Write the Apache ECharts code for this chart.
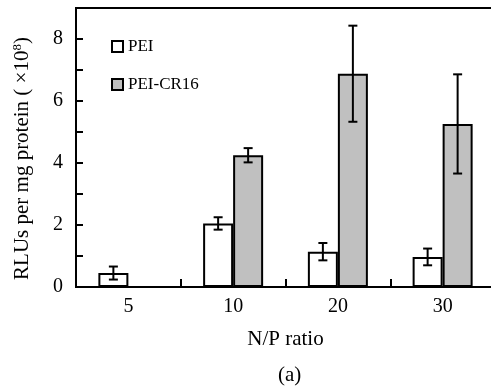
<!DOCTYPE html>
<html>
<head>
<meta charset="utf-8">
<script src="https://cdn.jsdelivr.net/npm/echarts@6/dist/echarts.min.js"></script>
<style>
  html, body { margin: 0; padding: 0; background: #fff; overflow: hidden; }
  #chart { width: 495px; height: 387px; }
</style>
</head>
<body>
<div id="chart"></div>
<script>
const ratios = ['5', '10', '20', '30']
const peiValues = [0.45, 2.05, 1.14, 0.97]
const peiErrors = [0.21, 0.2, 0.28, 0.27]
const crValues = [0, 4.25, 6.88, 5.26]
const crErrors = [0, 0.23, 1.55, 1.6]
const yTicks = [0, 2, 4, 6, 8]

const font = 'Liberation Serif'
const barW = 30

// error bar: [category index, low, high]
const errData = (vals, errs) => vals.map((v, i) => [i, v - errs[i], v + errs[i]])

const errorBar = (shift) => (params, api) => {
  const lo = api.coord([api.value(0), api.value(1)])
  const hi = api.coord([api.value(0), api.value(2)])
  const x = lo[0] + shift
  const cap = 4.5
  const style = { stroke: '#000', lineWidth: 2 }
  return {
    type: 'group',
    children: [
      { type: 'line', shape: { x1: x, y1: hi[1], x2: x, y2: lo[1] }, style },
      { type: 'line', shape: { x1: x - cap, y1: hi[1], x2: x + cap, y2: hi[1] }, style },
      { type: 'line', shape: { x1: x - cap, y1: lo[1], x2: x + cap, y2: lo[1] }, style }
    ]
  }
}

const myChart = echarts.init(document.getElementById('chart'))
const option = {
  animation: false,
  textStyle: { fontFamily: font, color: '#000' },
  title: {
    text: '(a)',
    left: 273,
    top: 360,
    textStyle: { fontFamily: font, fontSize: 21, fontWeight: 'normal', color: '#000' }
  },
  legend: {
    orient: 'vertical',
    left: 111,
    top: 38,
    padding: 0,
    itemGap: 21,
    itemWidth: 11,
    itemHeight: 11,
    icon: 'rect',
    data: ['PEI', 'PEI-CR16'],
    textStyle: { fontFamily: font, fontSize: 17, color: '#000' }
  },
  grid: {
    left: 76,
    top: 8,
    right: 0,
    bottom: 100,
    show: true,
    borderColor: '#000',
    borderWidth: 2
  },
  xAxis: {
    type: 'category',
    data: ratios,
    name: 'N/P ratio',
    nameLocation: 'middle',
    nameGap: 42,
    nameTextStyle: { fontFamily: font, fontSize: 21, color: '#000' },
    axisLine: { lineStyle: { color: '#000', width: 2 } },
    axisTick: { show: true, inside: true, length: 8, lineStyle: { color: '#000', width: 2 } },
    axisLabel: { fontFamily: font, fontSize: 20, color: '#000', margin: 10 }
  },
  yAxis: {
    type: 'value',
    min: 0,
    max: 9,
    interval: 1,
    name: '{t|RLUs per mg protein ( ×10}{s|8}{t|)}',
    nameLocation: 'middle',
    nameGap: 43,
    nameTextStyle: {
      padding: [0, 22, 0, 0],
      rich: {
        t: { fontFamily: font, fontSize: 21, color: '#000' },
        s: { fontFamily: font, fontSize: 13, color: '#000', verticalAlign: 'top', padding: [0, 0, 9, 0] }
      }
    },
    axisLine: { show: true, lineStyle: { color: '#000', width: 2 } },
    axisTick: { show: true, inside: true, length: 7, lineStyle: { color: '#000', width: 2 } },
    splitLine: { show: false },
    axisLabel: {
      fontFamily: font,
      fontSize: 20,
      color: '#000',
      margin: 13,
      formatter: v => (yTicks.includes(v) ? String(v) : '')
    }
  },
  series: [
    {
      name: 'PEI',
      type: 'bar',
      barWidth: barW,
      barGap: '0%',
      data: peiValues,
      itemStyle: { color: '#fff', borderColor: '#000', borderWidth: 2 }
    },
    {
      name: 'PEI-CR16',
      type: 'bar',
      barWidth: barW,
      barGap: '0%',
      data: crValues,
      itemStyle: { color: '#c0c0c0', borderColor: '#000', borderWidth: 2 }
    },
    {
      type: 'custom',
      renderItem: errorBar(-barW / 2),
      data: errData(peiValues, peiErrors),
      encode: { x: 0, y: [1, 2] },
      z: 5
    },
    {
      type: 'custom',
      renderItem: errorBar(barW / 2),
      data: errData(crValues, crErrors),
      encode: { x: 0, y: [1, 2] },
      z: 5
    }
  ]
}
myChart.setOption(option)
</script>
</body>
</html>
